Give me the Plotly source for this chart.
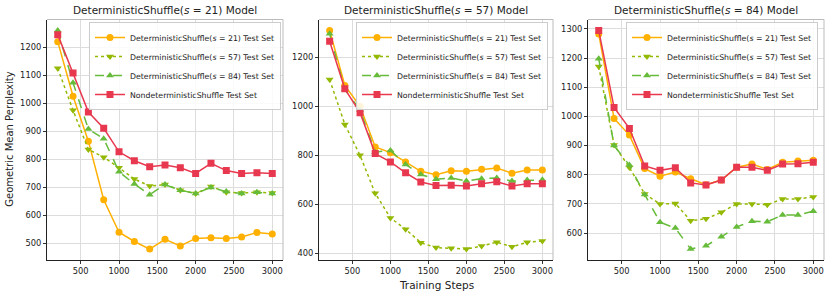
import plotly.graph_objects as go

steps = [200, 400, 600, 800, 1000, 1200, 1400, 1600, 1800, 2000, 2200, 2400, 2600, 2800, 3000]

series_names = [
    "DeterministicShuffle(<i>s</i> = 21) Test Set",
    "DeterministicShuffle(<i>s</i> = 57) Test Set",
    "DeterministicShuffle(<i>s</i> = 84) Test Set",
    "NondeterministicShuffle Test Set",
]
panel_titles = [
    "DeterministicShuffle(<i>s</i> = 21) Model",
    "DeterministicShuffle(<i>s</i> = 57) Model",
    "DeterministicShuffle(<i>s</i> = 84) Model",
]

# Panel 1: s=21 model
p1_s21 = [1220, 1025, 865, 656, 540, 507, 480, 515, 491, 518, 520, 518, 523, 539, 534]
p1_s57 = [1125, 975, 835, 808, 770, 730, 705, 710, 690, 678, 703, 683, 680, 683, 680]
p1_s84 = [1260, 1073, 908, 874, 756, 712, 674, 710, 690, 678, 700, 685, 678, 683, 678]
p1_nd = [1245, 1108, 969, 911, 827, 795, 774, 780, 770, 750, 786, 760, 750, 752, 750]

# Panel 2: s=57 model
p2_s21 = [1309, 1085, 1000, 834, 811, 773, 735, 721, 737, 735, 743, 748, 727, 740, 740]
p2_s57 = [1109, 926, 800, 645, 545, 499, 444, 424, 421, 418, 430, 446, 427, 446, 451]
p2_s84 = [1295, 1068, 985, 813, 820, 763, 722, 703, 708, 695, 705, 708, 695, 699, 700]
p2_nd = [1265, 1071, 974, 807, 773, 729, 691, 677, 678, 675, 684, 692, 675, 684, 684]

# Panel 3: s=84 model
p3_s21 = [1283, 993, 936, 821, 795, 809, 786, 766, 782, 826, 837, 818, 843, 847, 850]
p3_s57 = [1171, 902, 825, 734, 700, 701, 642, 649, 671, 700, 700, 697, 717, 717, 724]
p3_s84 = [1198, 900, 833, 732, 637, 617, 545, 556, 587, 621, 640, 639, 662, 662, 675]
p3_nd = [1295, 1031, 959, 830, 815, 824, 772, 765, 782, 826, 826, 815, 837, 838, 843]

panels = [
    [p1_s21, p1_s57, p1_s84, p1_nd],
    [p2_s21, p2_s57, p2_s84, p2_nd],
    [p3_s21, p3_s57, p3_s84, p3_nd],
]
y_dticks = [100, 200, 100]
x_ticks = [500, 1000, 1500, 2000, 2500, 3000]

colors = ["#FFB000", "#94B904", "#66BB3A", "#E8384F"]
dashes = ["solid", "dot", "dash", "solid"]
symbols = ["circle", "triangle-down", "triangle-up", "square"]

W, H = 830, 298
x_px = [(47, 283), (319, 553), (588, 824)]
y_top, y_bot = 19.5, 260
legend_right_px = [281, 548, 818]

FONT = "DejaVu Sans"
fig = go.Figure()

for i, data in enumerate(panels):
    ax = "" if i == 0 else str(i + 1)
    leg = "legend" if i == 0 else f"legend{i + 1}"
    for j, vals in enumerate(data):
        fig.add_trace(go.Scatter(
            x=steps, y=vals, name=series_names[j],
            mode="lines+markers",
            line=dict(color=colors[j], width=1.5, dash=dashes[j]),
            marker=dict(symbol=symbols[j], size=7, color=colors[j]),
            xaxis="x" + ax, yaxis="y" + ax, legend=leg,
        ))

layout = dict(
    width=W, height=H,
    margin=dict(l=0, r=0, t=0, b=0, pad=0, autoexpand=False),
    plot_bgcolor="white", paper_bgcolor="white",
    font=dict(family=FONT, size=8, color="#222"),
    showlegend=True,
)

xmin, xmax = min(steps), max(steps)
xpad = (xmax - xmin) * 0.05
shapes = []
annotations = []
for i, data in enumerate(panels):
    ax = "" if i == 0 else str(i + 1)
    allv = [v for s in data for v in s]
    lo, hi = min(allv), max(allv)
    pad = (hi - lo) * 0.05
    x0, x1 = x_px[i]
    xdom = [x0 / W, x1 / W]
    ydom = [(H - y_bot) / H, (H - y_top) / H]
    layout["xaxis" + ax] = dict(
        domain=xdom, range=[xmin - xpad, xmax + xpad],
        tickvals=x_ticks, ticks="outside", ticklen=3, tickcolor="#333",
        showgrid=True, gridcolor="#dddddd", gridwidth=1,
        showline=True, linecolor="#222", linewidth=1.2,
        zeroline=False, anchor="y" + ax, automargin=False,
        tickfont=dict(size=8.3, family=FONT, color="#222"),
    )
    layout["yaxis" + ax] = dict(
        domain=ydom, range=[lo - pad, hi + pad],
        dtick=y_dticks[i], ticks="outside", ticklen=3, tickcolor="#333",
        showgrid=True, gridcolor="#dddddd", gridwidth=1,
        showline=True, linecolor="#222", linewidth=1.2,
        zeroline=False, anchor="x" + ax, automargin=False,
        tickfont=dict(size=8.3, family=FONT, color="#222"),
    )
    # light top/right spines
    shapes.append(dict(type="line", xref=f"x{ax} domain", yref=f"y{ax} domain",
                       x0=0, x1=1, y0=1, y1=1, line=dict(color="#bbbbbb", width=1)))
    shapes.append(dict(type="line", xref=f"x{ax} domain", yref=f"y{ax} domain",
                       x0=1, x1=1, y0=0, y1=1, line=dict(color="#bbbbbb", width=1)))
    annotations.append(dict(
        text=panel_titles[i], x=(x0 + x1) / 2 / W, y=(H - 10) / H,
        xref="paper", yref="paper", xanchor="center", yanchor="middle",
        showarrow=False, font=dict(size=10.5, family=FONT, color="#222"),
    ))
    leg = "legend" if i == 0 else f"legend{i + 1}"
    layout[leg] = dict(
        x=legend_right_px[i] / W, y=(H - 22) / H, xanchor="right", yanchor="top",
        bgcolor="rgba(255,255,255,0.85)", bordercolor="#cccccc", borderwidth=1,
        font=dict(size=7.8, family=FONT, color="#222"),
        itemwidth=30, tracegroupgap=0,
    )

annotations.append(dict(
    text="Geometric Mean Perplexity", x=10 / W, y=(H - (y_top + y_bot) / 2) / H,
    xref="paper", yref="paper", textangle=-90, showarrow=False,
    xanchor="center", yanchor="middle", font=dict(size=10, family=FONT, color="#222"),
))
annotations.append(dict(
    text="Training Steps", x=(x_px[1][0] + x_px[1][1]) / 2 / W, y=(H - 285) / H,
    xref="paper", yref="paper", showarrow=False,
    xanchor="center", yanchor="middle", font=dict(size=10.5, family=FONT, color="#222"),
))

layout["shapes"] = shapes
layout["annotations"] = annotations
fig.update_layout(**layout)
fig.write_html(
    "out.html",
    config={"displayModeBar": False},
    post_script="document.body.style.margin='0';document.body.style.overflow='hidden';",
)
